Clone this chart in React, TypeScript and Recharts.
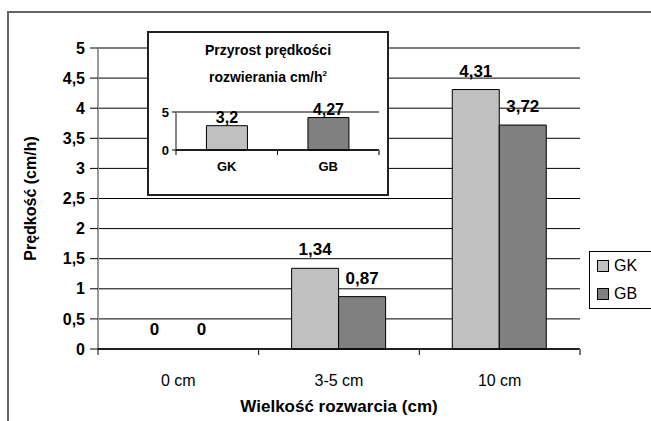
import { BarChart, Bar, XAxis, YAxis, CartesianGrid, LabelList, Cell, Rectangle } from 'recharts';

const categories = ['0 cm', '3-5 cm', '10 cm'];
const gkValues = [0, 1.34, 4.31];
const gbValues = [0, 0.87, 3.72];
const yTicks = [0, 0.5, 1, 1.5, 2, 2.5, 3, 3.5, 4, 4.5, 5];
const seriesNames = ['GK', 'GB'];
const seriesColors = ['#c0c0c0', '#808080'];

const insetCategories = ['GK', 'GB'];
const insetValues = [3.2, 4.27];
const insetTicks = [0, 5];

const FONT = '"Liberation Sans", Arial, sans-serif';
const fmt = (v: any) => String(v).replace('.', ',');

const data = categories.map((c, i) => ({ name: c, GK: gkValues[i], GB: gbValues[i] }));
const insetData = insetCategories.map((c, i) => ({ name: c, value: insetValues[i] }));

// category labels with tick marks on the band edges (Excel style)
function BandTick(props: any) {
  const { x, y, payload, size, gap, fontSize, fontWeight, width, visibleTicksCount } = props;
  const half = payload.offset || width / visibleTicksCount / 2;
  const axisY = y - size - gap;
  return (
    <g>
      <line x1={x - half} x2={x - half} y1={axisY} y2={axisY + size} stroke="#000" />
      {payload.index === visibleTicksCount - 1 && (
        <line x1={x + half} x2={x + half} y1={axisY} y2={axisY + size} stroke="#777" strokeWidth={2} />
      )}
      <text x={x} y={y} dy="0.71em" textAnchor="middle" fill="#000" fontSize={fontSize} fontWeight={fontWeight} fontFamily={FONT}>
        {payload.value}
      </text>
    </g>
  );
}

// zero values get a 1px placeholder so their label still shows, but no box is drawn
const barShape = (key: string) => (p: any) =>
  p.payload && p.payload[key] === 0 ? <g /> : <Rectangle {...p} />;

function InsetChart() {
  return (
    <div
      style={{
        position: 'absolute',
        left: 147,
        top: 31,
        width: 238,
        height: 161,
        border: '2px solid #222',
        background: '#fff',
        fontFamily: FONT,
      }}
    >
      <div
        style={{
          position: 'absolute',
          left: 0,
          top: 6,
          width: 238,
          textAlign: 'center',
          fontSize: 14,
          fontWeight: 'bold',
          lineHeight: '23px',
        }}
      >
        Przyrost prędkości
        <br />
        rozwierania cm/h<sup style={{ fontSize: 8 }}>2</sup>
      </div>
      <div style={{ position: 'absolute', left: 0, top: 0 }}>
        <BarChart width={238} height={161} data={insetData} margin={{ top: 79, right: 8, bottom: 8, left: 0 }} barCategoryGap="30%">
          <CartesianGrid vertical={false} stroke="#000" />
          <YAxis
            domain={[0, 5]}
            ticks={insetTicks}
            width={27}
            tickSize={4}
            tickMargin={3}
            axisLine={{ stroke: '#888', strokeWidth: 2 }}
            tickLine={{ stroke: '#000' }}
            tick={{ fill: '#000', fontSize: 13, fontWeight: 'bold', fontFamily: FONT }}
          />
          <XAxis
            dataKey="name"
            height={36}
            tickSize={5}
            tickMargin={7}
            tickLine={false}
            axisLine={{ stroke: '#000', strokeWidth: 1.5 }}
            tick={(p: any) => <BandTick {...p} size={5} gap={7} fontSize={13} fontWeight="bold" />}
          />
          <Bar dataKey="value" stroke="#000" strokeWidth={1} isAnimationActive={false}>
            {insetData.map((d, i) => (
              <Cell key={d.name} fill={seriesColors[i]} />
            ))}
            <LabelList dataKey="value" position="top" offset={3} formatter={fmt} fill="#000" fontSize={16} fontWeight="bold" fontFamily={FONT} />
          </Bar>
        </BarChart>
      </div>
    </div>
  );
}

export default function App() {
  return (
    <div style={{ position: 'absolute', left: 0, top: 0, width: 651, height: 421, overflow: 'hidden', background: '#fff' }}>
      <div style={{ position: 'absolute', left: 7, top: 11, width: 700, height: 500, border: '2px solid #666' }} />
      <div style={{ position: 'absolute', left: 0, top: 0 }}>
        <BarChart width={651} height={421} data={data} margin={{ top: 48, right: 71, bottom: 6, left: 8 }} barCategoryGap="20.5%" barGap={0}>
          <CartesianGrid vertical={false} stroke="#000" />
          <YAxis
            domain={[0, 5]}
            ticks={yTicks}
            width={90}
            tickSize={8}
            tickMargin={5}
            tickFormatter={fmt}
            axisLine={{ stroke: '#999', strokeWidth: 2 }}
            tickLine={{ stroke: '#000' }}
            tick={{ fill: '#000', fontSize: 16, fontWeight: 'bold', fontFamily: FONT }}
            label={{ value: 'Prędkość (cm/h)', angle: -90, position: 'center', dx: -23, fill: '#000', fontSize: 16, fontWeight: 'bold', fontFamily: FONT }}
          />
          <XAxis
            dataKey="name"
            height={66}
            tickSize={6}
            tickMargin={20}
            tickLine={false}
            axisLine={{ stroke: '#000', strokeWidth: 1.5 }}
            tick={(p: any) => <BandTick {...p} size={6} gap={20} fontSize={16} fontWeight="normal" />}
            label={{ value: 'Wielkość rozwarcia (cm)', position: 'insideBottom', offset: 3, fill: '#000', fontSize: 17, fontWeight: 'bold', fontFamily: FONT }}
          />
          {seriesNames.map((s, i) => (
            <Bar
              key={s}
              dataKey={s}
              fill={seriesColors[i]}
              stroke="#000"
              strokeWidth={1}
              minPointSize={1}
              shape={barShape(s)}
              isAnimationActive={false}
            >
              <LabelList dataKey={s} position="top" offset={13} formatter={fmt} fill="#000" fontSize={17} fontWeight="bold" fontFamily={FONT} />
            </Bar>
          ))}
        </BarChart>
      </div>
      <InsetChart />
      <div
        style={{
          position: 'absolute',
          left: 589,
          top: 251,
          width: 80,
          height: 56,
          border: '1px solid #000',
          fontFamily: FONT,
          fontSize: 16,
        }}
      >
        {seriesNames.map((s, i) => (
          <div key={s} style={{ position: 'absolute', left: 7, top: 5 + i * 28, display: 'flex', alignItems: 'center' }}>
            <span style={{ width: 10, height: 10, background: seriesColors[i], border: '1px solid #000', display: 'inline-block' }} />
            <span style={{ marginLeft: 5 }}>{s}</span>
          </div>
        ))}
      </div>
    </div>
  );
}
